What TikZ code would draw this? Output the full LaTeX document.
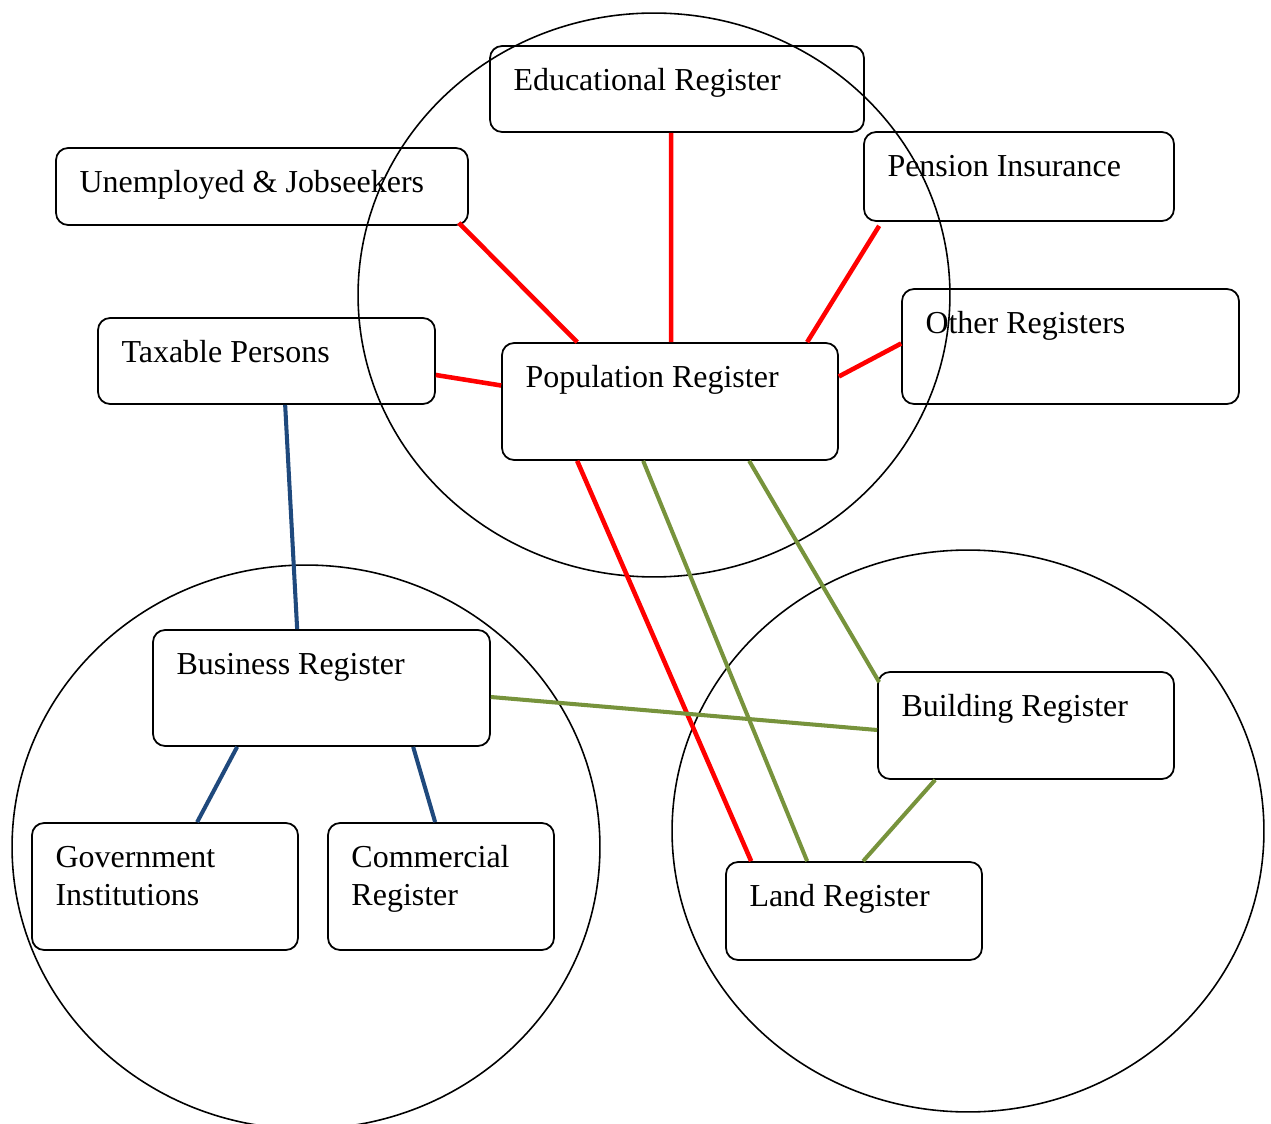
\documentclass[tikz,border=0pt]{standalone}
\usepackage{fontspec}
\setmainfont{Liberation Serif}
\usetikzlibrary{calc}
\definecolor{regred}{RGB}{255,0,0}
\definecolor{reggreen}{RGB}{119,147,60}
\definecolor{regblue}{RGB}{31,73,125}

\begin{document}
\begin{tikzpicture}[x=0.02cm, y=-0.02cm,
    regbox/.style={draw, line width=1pt, rounded corners=0.24cm, inner sep=0pt},
    regtext/.style={anchor=base west, inner sep=0pt, align=left,
      font=\fontsize{18.2}{21.6}\selectfont},
    redlink/.style={regred, line width=2.6pt},
    greenlink/.style={reggreen, line width=2.3pt},
    bluelink/.style={regblue, line width=2.3pt}]
    \clip (0,0) rectangle (1271,1124);
    % three groups
    \draw[line width=0.9pt] (654,295) ellipse [x radius=5.92cm, y radius=5.64cm];
    \draw[line width=0.9pt] (306,847) ellipse [x radius=5.88cm, y radius=5.64cm];
    \draw[line width=0.9pt] (968,831) ellipse [x radius=5.92cm, y radius=5.62cm];
    % registers
    \node[regbox, minimum width=7.48cm, minimum height=1.72cm] (edu) at (677,89) {};
    \node[regbox, minimum width=8.24cm, minimum height=1.54cm] (unemp) at (262,186.5) {};
    \node[regbox, minimum width=6.20cm, minimum height=1.78cm] (pension) at (1019,176.5) {};
    \node[regbox, minimum width=6.74cm, minimum height=1.72cm] (taxable) at (266.5,361) {};
    \node[regbox, minimum width=6.72cm, minimum height=2.34cm] (pop) at (670,401.5) {};
    \node[regbox, minimum width=6.74cm, minimum height=2.30cm] (other) at (1070.5,346.5) {};
    \node[regbox, minimum width=6.74cm, minimum height=2.32cm] (business) at (321.5,688) {};
    \node[regbox, minimum width=5.92cm, minimum height=2.14cm] (building) at (1026,725.5) {};
    \node[regbox, minimum width=5.32cm, minimum height=2.54cm] (gov) at (165,886.5) {};
    \node[regbox, minimum width=4.52cm, minimum height=2.54cm] (commercial) at (441,886.5) {};
    \node[regbox, minimum width=5.12cm, minimum height=1.96cm] (land) at (854,911) {};
    % labels (two-line ones sit on their last line)
    \node[regtext] at ([shift={(24,45)}]edu.north west) {Educational Register};
    \node[regtext] at ([shift={(24,45)}]unemp.north west) {Unemployed \& Jobseekers};
    \node[regtext] at ([shift={(24,45)}]pension.north west) {Pension Insurance};
    \node[regtext] at ([shift={(24,45)}]taxable.north west) {Taxable Persons};
    \node[regtext] at ([shift={(24,45)}]pop.north west) {Population Register};
    \node[regtext] at ([shift={(24,45)}]other.north west) {Other Registers};
    \node[regtext] at ([shift={(24,45)}]business.north west) {Business Register};
    \node[regtext] at ([shift={(24,45)}]building.north west) {Building Register};
    \node[regtext] at ([shift={(24,83)}]gov.north west) {Government\\Institutions};
    \node[regtext] at ([shift={(24,83)}]commercial.north west) {Commercial\\Register};
    \node[regtext] at ([shift={(24,45)}]land.north west) {Land Register};
    % links
    \draw[redlink] ($(unemp.south east)+(-10,-3)$) -- ($(pop.north west)+(76,0)$);
    \draw[redlink] ($(edu.south west)+(182,0)$) -- ($(pop.north west)+(170,0)$);
    \draw[redlink] ($(pension.south west)+(16,4)$) -- ($(pop.north west)+(306,0)$);
    \draw[redlink] ($(other.west)+(0,-3)$) -- ($(pop.east)+(0,-25)$);
    \draw[redlink] ($(taxable.east)+(0,14)$) -- ($(pop.west)+(0,-16)$);
    \draw[redlink] ($(pop.south west)+(76,0)$) -- ($(land.north west)+(26,0)$);
    \draw[greenlink] ($(pop.south west)+(142,0)$) -- ($(land.north west)+(82,0)$);
    \draw[greenlink] ($(pop.south west)+(248,0)$) -- ($(building.north west)+(2,11)$);
    \draw[greenlink] ($(business.east)+(0,9)$) -- ($(building.west)+(0,4.5)$);
    \draw[greenlink] ($(building.south west)+(58,0)$) -- ($(land.north west)+(138,0)$);
    \draw[bluelink] ($(taxable.south west)+(188,0)$) -- ($(business.north west)+(145,0)$);
    \draw[bluelink] ($(business.south west)+(85,0)$) -- ($(gov.north west)+(166,0)$);
    \draw[bluelink] ($(business.south west)+(261,0)$) -- ($(commercial.north west)+(108,0)$);
\end{tikzpicture}
\end{document}
